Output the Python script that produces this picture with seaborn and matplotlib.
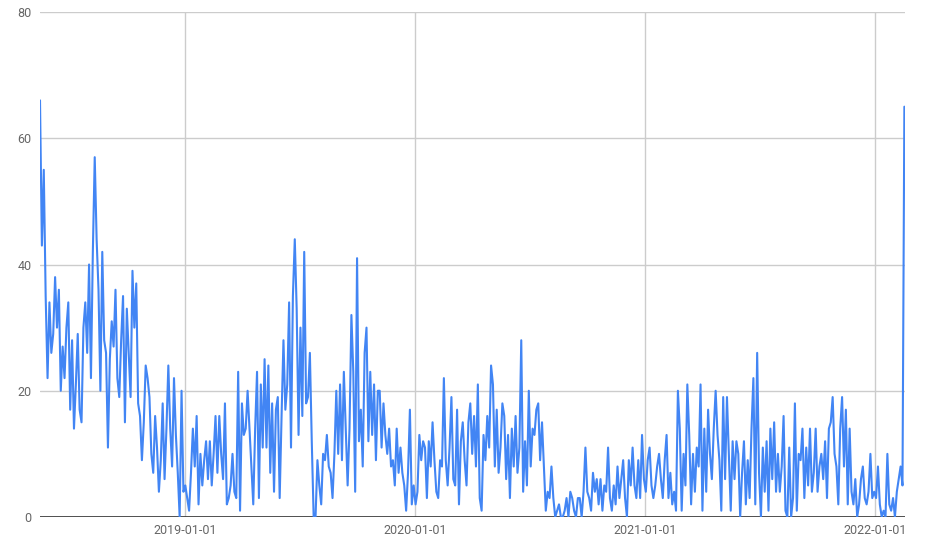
import numpy as np
import pandas as pd
import matplotlib
matplotlib.use("Agg")
import matplotlib.pyplot as plt
import matplotlib.dates as mdates
import seaborn as sns

# ---- data (one value every 3 days) ----
start_date = "2018-05-15"
step_days = 3

values_part1 = [
    66, 43, 55, 35, 22, 34, 26, 29, 38, 30,
    36, 20, 27, 22, 30, 34, 17, 28, 14, 21,
    29, 17, 15, 30, 34, 26, 40, 22, 42, 57,
    44, 36, 20, 42, 28, 26, 11, 25, 31, 27,
    36, 22, 19, 28, 35, 15, 33, 26, 19, 39,
    30, 37, 18, 16, 9, 15, 24, 22, 19, 10,
    7, 16, 11, 4, 9, 18, 6, 14, 24, 14,
    8, 22, 13, 7, 0, 20, 4, 5, 3, 1,
    7, 14, 8, 16, 2, 10, 5, 9, 12, 6,
    12, 5, 10, 16, 7, 16, 10, 6, 18, 2,
    3, 5, 10, 4, 3, 23, 1, 18, 13, 14,
    20, 14, 8, 2, 14, 23, 3, 21, 11, 25,
]
values_part2 = [
    11, 24, 7, 18, 4, 17, 19, 3, 16, 28,
    17, 21, 34, 11, 35, 44, 33, 13, 30, 16,
    42, 18, 19, 26, 12, 0, 0, 9, 5, 2,
    10, 9, 13, 8, 7, 3, 10, 20, 10, 21,
    9, 23, 14, 5, 14, 32, 23, 4, 41, 12,
    17, 8, 26, 30, 12, 23, 13, 21, 9, 20,
    20, 11, 18, 13, 10, 14, 8, 9, 5, 14,
    7, 11, 7, 5, 1, 7, 17, 2, 5, 2,
    4, 13, 9, 12, 11, 3, 12, 8, 15, 9,
    4, 3, 9, 8, 22, 9, 5, 11, 19, 6,
    5, 17, 2, 12, 15, 9, 5, 15, 18, 10,
    16, 8, 21, 3, 1, 13, 9, 16, 11, 24,
]
values_part3 = [
    21, 8, 17, 7, 11, 18, 16, 6, 13, 3,
    14, 8, 16, 7, 11, 28, 4, 12, 5, 20,
    8, 14, 13, 17, 18, 9, 15, 8, 1, 4,
    3, 8, 3, 0, 1, 2, 0, 0, 1, 3,
    0, 4, 3, 1, 0, 3, 3, 0, 4, 11,
    4, 3, 1, 7, 4, 6, 2, 6, 1, 5,
    4, 11, 3, 1, 5, 2, 8, 3, 6, 9,
    3, 0, 9, 5, 11, 5, 3, 9, 3, 13,
    6, 4, 9, 11, 5, 3, 5, 8, 10, 6,
    3, 9, 13, 3, 7, 2, 4, 1, 20, 14,
    1, 10, 5, 21, 13, 2, 10, 4, 11, 8,
    21, 1, 14, 4, 17, 10, 6, 14, 20, 13,
]
values_part4 = [
    9, 1, 19, 6, 19, 10, 1, 12, 6, 12,
    10, 0, 7, 12, 2, 9, 3, 14, 22, 2,
    26, 7, 0, 11, 4, 12, 1, 14, 6, 15,
    4, 10, 4, 8, 16, 1, 0, 11, 0, 3,
    18, 1, 10, 9, 14, 3, 11, 5, 14, 4,
    7, 14, 4, 8, 10, 6, 12, 3, 14, 15,
    19, 10, 8, 2, 14, 19, 8, 17, 2, 14,
    4, 2, 6, 0, 2, 6, 8, 3, 2, 4,
    10, 3, 4, 3, 8, 2, 0, 1, 0, 10,
    2, 1, 3, 0, 4, 6, 8, 5, 65,
]

y_ticks = [0, 20, 40, 60, 80]
x_tick_dates = ["2019-01-01", "2020-01-01", "2021-01-01", "2022-01-01"]

values = values_part1 + values_part2 + values_part3 + values_part4
dates = pd.date_range(start_date, periods=len(values), freq=f"{step_days}D")
df = pd.DataFrame({"date": dates, "value": values})

# ---- figure ----
sns.set_theme(style="white")
plt.rcParams["font.family"] = ["Roboto", "DejaVu Sans"]

fig = plt.figure(figsize=(9.28, 5.47), dpi=100)
ax = fig.add_axes([40 / 928, 30 / 547, 865 / 928, 505 / 547])

sns.lineplot(data=df, x="date", y="value", ax=ax, color="#4285F4",
             linewidth=1.5, zorder=3)

ax.set_ylim(0, 80)
ax.set_xlim(dates[0], dates[-1] + pd.Timedelta(days=1))
ax.set_yticks(y_ticks)
ax.set_yticklabels([str(v) for v in y_ticks])
xt = pd.to_datetime(x_tick_dates)
ax.set_xticks(xt)
ax.set_xticklabels(x_tick_dates)

ax.grid(True, color="#cccccc", linewidth=1.0, zorder=0)
ax.set_axisbelow(True)
ax.axhline(0, color="#333333", linewidth=1.2, zorder=2)

for s in ax.spines.values():
    s.set_visible(False)

ax.tick_params(axis="both", length=0, labelsize=9, colors="#666666")
ax.tick_params(axis="y", pad=6)
ax.tick_params(axis="x", pad=5)
ax.set_xlabel("")
ax.set_ylabel("")

fig.savefig("out.png", dpi=100)
